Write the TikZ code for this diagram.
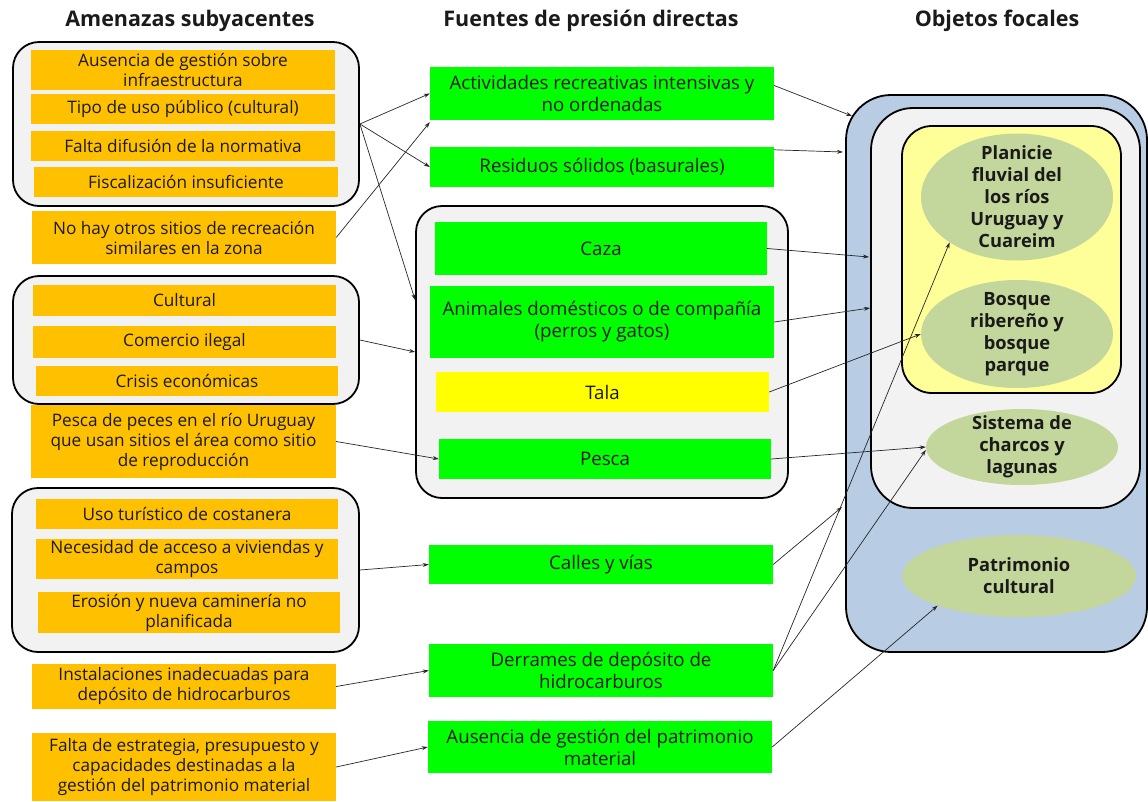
\documentclass[tikz,border=0pt]{standalone}
\usepackage{fontspec}
\setmainfont{Open Sans}
\usetikzlibrary{arrows.meta,shapes.geometric}
\definecolor{orng}{HTML}{FFC000}
\definecolor{grn}{HTML}{00FF00}
\definecolor{ylw}{HTML}{FFFF00}
\definecolor{lgray}{HTML}{F2F2F2}
\definecolor{blu}{HTML}{B8CCE4}
\definecolor{lylw}{HTML}{FFFF99}
\definecolor{ellc}{HTML}{C3D69B}
\definecolor{txtc}{HTML}{1A1A1A}
\begin{document}
\begin{tikzpicture}[x=1pt,y=-1pt,
  txt/.style={font=\fontsize{17.2}{20}\selectfont, align=center, inner sep=0pt, text=txtc},
  mtxt/.style={font=\fontsize{18.7}{22}\selectfont, align=center, inner sep=0pt, text=txtc},
  obox/.style={txt, fill=orng},
  gbox/.style={mtxt, fill=grn},
  ybox/.style={mtxt, fill=ylw},
  grp/.style={draw=black, line width=1.8pt, fill=lgray, rounded corners=26pt, inner sep=0pt},
  ell/.style={ellipse, fill=ellc, inner sep=0pt},
  etxt/.style={font=\bfseries\fontsize{18.3}{22}\selectfont, align=center, inner sep=0pt, text=txtc},
  arr/.style={-{Stealth[length=6pt,width=4pt]}, line width=0.7pt, draw=black!85},
  ttl/.style={font=\bfseries\fontsize{21.5}{26}\selectfont, text=txtc, inner sep=0pt}
]
\useasboundingbox (0,0) rectangle (1148,801);

% titles
\node[ttl] (t1) at (190,21) {Amenazas subyacentes};
\node[ttl] (t2) at (591,21) {Fuentes de presión directas};
\node[ttl] (t3) at (997,21) {Objetos focales};

% groups
\node[grp, minimum width=346, minimum height=164] (g1) at (186,124) {};
\node[grp, minimum width=346, minimum height=128] (g2) at (186,340) {};
\node[grp, minimum width=347, minimum height=164] (g3) at (185.5,570) {};
\node[grp, minimum width=372, minimum height=292] (gm) at (602,352) {};

% right containers
\node[draw=black, line width=1.8pt, fill=blu, rounded corners=45pt, inner sep=0pt, minimum width=301, minimum height=557] (ob) at (996.5,373.5) {};
\node[draw=black, line width=1.8pt, fill=lgray, rounded corners=42pt, inner sep=0pt, minimum width=269, minimum height=400] (og) at (1005.5,308) {};
\node[draw=black, line width=1.8pt, fill=lylw, rounded corners=30pt, inner sep=0pt, minimum width=219, minimum height=267] (oy) at (1011.5,259.5) {};

% left boxes
\node[obox, minimum width=304, minimum height=40] (u1) at (183,70) {Ausencia de gestión sobre\\infraestructura};
\node[obox, minimum width=304, minimum height=30] (u2) at (183,109) {Tipo de uso público (cultural)};
\node[obox, minimum width=304, minimum height=30] (u3) at (183,146) {Falta difusión de la normativa};
\node[obox, minimum width=304, minimum height=30] (u4) at (186,182) {Fiscalización insuficiente};
\node[obox, minimum width=304, minimum height=53] (u5) at (184,237.5) {No hay otros sitios de recreación\\similares en la zona};
\node[obox, minimum width=303, minimum height=31] (u6) at (184.5,300.5) {Cultural};
\node[obox, minimum width=303, minimum height=32] (u7) at (184.5,342) {Comercio ilegal};
\node[obox, minimum width=302, minimum height=30] (u8) at (187,381) {Crisis económicas};
\node[obox, minimum width=305, minimum height=73] (u9) at (183.5,441.5) {Pesca de peces en el río Uruguay\\que usan sitios el área como sitio\\de reproducción};
\node[obox, minimum width=302, minimum height=30] (u10) at (187,514) {Uso turístico de costanera};
\node[obox, minimum width=302, minimum height=40] (u11) at (187,559) {Necesidad de acceso a viviendas y\\campos};
\node[obox, minimum width=302, minimum height=41] (u12) at (189,612.5) {Erosión y nueva caminería no\\planificada};
\node[obox, minimum width=304, minimum height=45] (u13) at (184,686.5) {Instalaciones inadecuadas para\\depósito de hidrocarburos};
\node[obox, minimum width=304, minimum height=68] (u14) at (184,767) {Falta de estrategia, presupuesto y\\capacidades destinadas a la\\gestión del patrimonio material};

% middle boxes
\node[gbox, minimum width=344, minimum height=53] (d1) at (602,93.5) {Actividades recreativas intensivas y\\no ordenadas};
\node[gbox, minimum width=344, minimum height=40] (d2) at (602,167) {Residuos sólidos (basurales)};
\node[gbox, minimum width=332, minimum height=53] (d3) at (601,248.5) {Caza};
\node[gbox, minimum width=344, minimum height=72] (d4) at (602,322) {Animales domésticos o de compañía\\(perros y gatos)};
\node[ybox, minimum width=333, minimum height=40] (d5) at (602.5,392) {Tala};
\node[gbox, minimum width=332, minimum height=40] (d6) at (605,459) {Pesca};
\node[gbox, minimum width=344, minimum height=39] (d7) at (601,564.5) {Calles y vías};
\node[gbox, minimum width=344, minimum height=53] (d8) at (601,670.5) {Derrames de depósito de\\hidrocarburos};
\node[gbox, minimum width=344, minimum height=52] (d9) at (600,747) {Ausencia de gestión del patrimonio\\material};

% focal objects
\node[ell, minimum width=192, minimum height=127] (e1) at (1017,197) {};
\node[etxt] (e1t) at (e1.center) {Planicie\\fluvial del\\los ríos\\Uruguay y\\Cuareim};
\node[ell, minimum width=192, minimum height=108] (e2) at (1017,334) {};
\node[etxt] (e2t) at (e2.center) {Bosque\\ribereño y\\bosque\\parque};
\node[ell, minimum width=192, minimum height=76] (e3) at (1022,447) {};
\node[etxt] (e3t) at (e3.center) {Sistema de\\charcos y\\lagunas};
\node[ell, minimum width=234, minimum height=82] (e4) at (1019,576) {};
\node[etxt] (e4t) at (e4.center) {Patrimonio\\cultural};

% arrow end coordinates on containers
\coordinate (b1) at (852,116);
\coordinate (b2) at (843,152);
\coordinate (b3) at (869,257);
\coordinate (b4) at (870,308);
\coordinate (b5) at (842,507);

% left arrows
\draw[arr] (g1.east) -- (d1.west);
\draw[arr] (g1.east) -- (d2.west);
\draw[arr] (g1.east) -- ([yshift=52pt]gm.west);
\draw[arr] (u5.east) -- ([yshift=-2pt]d1.south west);
\draw[arr] (g2.east) -- (gm.west);
\draw[arr] (u9.east) -- (d6.west);
\draw[arr] (g3.east) -- (d7.west);
\draw[arr] (u13.east) -- (d8.west);
\draw[arr] (u14.east) -- (d9.west);

% right arrows
\draw[arr] ([yshift=8pt]d1.east) -- (b1);
\draw[arr] ([yshift=-3pt]d2.north east) -- (b2);
\draw[arr] (d3.east) -- (b3);
\draw[arr] (d4.east) -- (b4);
\draw[arr] (d5.east) -- (e2.west);
\draw[arr] (d6.east) -- (e3.west);
\draw[arr] (d7.east) -- (b5);
\draw[arr] (d8.east) -- (e1.214);
\draw[arr] (d8.east) -- ([yshift=-3pt]e3.west);
\draw[arr] (d9.east) -- (e4.200);
\end{tikzpicture}
\end{document}
